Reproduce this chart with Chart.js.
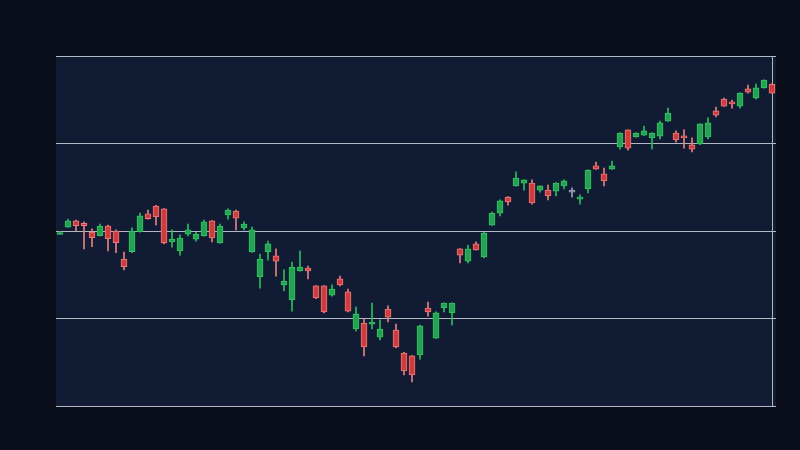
<!DOCTYPE html>
<html>
<head>
<meta charset="utf-8">
<style>
  html, body { margin: 0; padding: 0; background: #0a0e1a; }
  #wrap { width: 800px; height: 450px; }
</style>
<script src="https://cdn.jsdelivr.net/npm/chart.js@4.4.4/dist/chart.umd.min.js"></script>
</head>
<body>
<div id="wrap"><canvas id="chart" width="800" height="450"></canvas></div>
<script>
// OHLC per session, read off the reference candles (no axis labels shown,
// so the price scale is arbitrary: 100..200 across the plot height).
const opens = [
  149.0, 151.1, 152.9, 152.2, 149.7, 148.7, 151.4, 150.0, 142.0, 144.1,
  149.8, 154.9, 157.1, 156.3, 146.9, 144.3, 149.1, 147.7, 148.6, 152.9,
  146.6, 154.6, 155.7, 150.9, 144.0, 136.9, 144.0, 142.9, 134.6, 130.3,
  138.6, 139.4, 134.3, 134.3, 131.7, 136.3, 132.6, 122.0, 123.7, 123.4,
  119.7, 127.7, 121.7, 115.1, 114.3, 114.6, 128.0, 119.4, 128.0, 126.6,
  144.9, 141.4, 146.3, 142.6, 151.7, 155.1, 159.7, 162.9, 163.7, 163.7,
  161.7, 161.7, 161.4, 162.9, 161.1, 159.1, 162.0, 168.6, 166.3, 167.7,
  174.0, 178.9, 176.9, 177.4, 176.6, 177.1, 181.4, 178.0, 177.1, 174.6,
  174.9, 176.9, 184.3, 187.7, 186.9, 185.7, 190.6, 188.0, 190.9, 192.0
];
const highs = [
  149.9, 153.4, 153.1, 152.6, 150.6, 152.0, 151.7, 150.3, 144.0, 150.9,
  155.1, 156.0, 157.3, 156.4, 150.3, 148.9, 152.0, 149.7, 153.1, 153.0,
  152.0, 156.3, 156.0, 152.6, 151.1, 143.4, 147.1, 144.9, 138.9, 141.1,
  144.3, 140.0, 134.4, 134.4, 134.6, 137.1, 133.4, 128.3, 124.9, 129.4,
  124.6, 128.6, 123.4, 115.3, 114.4, 123.1, 129.7, 126.9, 129.5, 129.5,
  145.0, 146.0, 146.9, 149.7, 155.4, 158.9, 159.8, 166.9, 164.6, 164.6,
  162.9, 163.1, 163.8, 164.6, 162.3, 160.3, 167.5, 169.7, 168.0, 170.0,
  178.1, 178.9, 178.1, 180.0, 178.1, 181.4, 185.1, 178.6, 178.9, 176.6,
  180.6, 182.3, 185.4, 188.0, 187.4, 189.5, 191.7, 192.0, 193.2, 192.1
];
const lows = [
  149.0, 151.1, 150.0, 144.9, 145.5, 148.6, 144.3, 143.8, 138.9, 143.8,
  149.7, 153.4, 151.7, 146.3, 145.4, 143.1, 148.6, 147.1, 148.5, 146.9,
  146.5, 153.4, 150.3, 150.3, 143.9, 133.7, 141.7, 137.1, 132.9, 127.1,
  138.5, 136.3, 130.7, 126.6, 131.4, 134.3, 126.9, 121.4, 114.3, 122.0,
  118.9, 124.0, 116.6, 108.9, 106.9, 113.4, 125.7, 119.3, 126.9, 123.1,
  140.9, 140.9, 144.5, 142.3, 151.6, 154.3, 157.4, 162.8, 161.7, 157.7,
  161.1, 158.9, 160.0, 162.0, 159.7, 157.7, 160.9, 167.6, 162.9, 167.6,
  173.4, 173.1, 176.8, 177.3, 173.4, 176.3, 181.3, 175.4, 173.7, 172.6,
  174.7, 176.3, 182.6, 185.6, 185.1, 185.1, 189.4, 187.7, 190.8, 189.3
];
const closes = [
  149.4, 152.9, 151.5, 151.5, 148.1, 151.4, 147.8, 146.7, 139.8, 150.0,
  154.3, 153.5, 154.0, 146.6, 147.7, 148.0, 150.3, 149.1, 152.6, 148.0,
  151.4, 156.0, 153.7, 152.0, 150.3, 142.0, 146.3, 141.4, 135.7, 139.7,
  139.7, 138.6, 130.9, 126.9, 133.4, 134.6, 127.1, 126.3, 116.9, 124.0,
  122.0, 125.4, 116.9, 110.0, 108.9, 122.9, 126.9, 126.6, 129.4, 129.4,
  143.1, 144.9, 144.6, 149.4, 155.1, 158.6, 158.3, 165.1, 164.6, 158.0,
  162.9, 160.0, 163.7, 164.3, 161.1, 159.4, 167.4, 167.7, 164.3, 168.6,
  178.0, 173.7, 178.0, 178.6, 178.0, 180.9, 183.7, 176.0, 176.6, 173.4,
  180.6, 180.9, 183.1, 185.7, 186.3, 189.4, 189.7, 190.9, 193.1, 189.4
];
const labels = opens.map((_, i) => 'Day ' + (i + 1));

const PRICE_MIN = 100;
const PRICE_MAX = 200;
const PRICE_STEP = 25;

const PAGE_BG = '#0a0e1a';
const PLOT_BG = '#111b33';
const GRID_COLOR = '#b3b8c5';

const UP = { fill: '#22a34f', border: '#35c465', wick: '#2fbb5c' };
const DOWN = { fill: '#d03b3b', border: '#ee7b7b', wick: '#e58080' };
const FLAT = { fill: '#98a2b6', border: '#98a2b6', wick: '#98a2b6' };

function side(i) {
  if (closes[i] > opens[i]) return UP;
  if (closes[i] < opens[i]) return DOWN;
  return FLAT;
}

// fills the page and the plot rectangle before anything else is drawn
const plotBackground = {
  id: 'plotBackground',
  beforeDraw(chart) {
    const { ctx, chartArea } = chart;
    ctx.save();
    ctx.fillStyle = PAGE_BG;
    ctx.fillRect(0, 0, chart.width, chart.height);
    ctx.fillStyle = PLOT_BG;
    ctx.fillRect(chartArea.left, chartArea.top, chartArea.width, chartArea.height);
    ctx.restore();
  }
};

const bodies = opens.map((o, i) => [Math.min(o, closes[i]), Math.max(o, closes[i])]);
const wicks = lows.map((l, i) => [l, highs[i]]);

new Chart(document.getElementById('chart'), {
  type: 'bar',
  data: {
    labels,
    datasets: [
      {
        label: 'Body',
        data: bodies,
        backgroundColor: opens.map((_, i) => side(i).fill),
        borderColor: opens.map((_, i) => side(i).border),
        borderWidth: 1,
        borderSkipped: false,
        barThickness: 6,
        minBarLength: 2,
        grouped: false,
        order: 0
      },
      {
        label: 'Wick',
        data: wicks,
        backgroundColor: opens.map((_, i) => side(i).wick),
        borderWidth: 0,
        barThickness: 1,
        grouped: false,
        order: 1
      }
    ]
  },
  options: {
    responsive: false,
    animation: false,
    layout: { padding: { left: 56, right: 24, top: 56, bottom: 44 } },
    plugins: { legend: { display: false }, tooltip: { enabled: false } },
    scales: {
      x: {
        type: 'category',
        offset: true,
        ticks: { display: false },
        border: { display: false },
        grid: {
          offset: false,
          drawTicks: false,
          // only the latest session gets a marker line
          color: ctx => (ctx.index === labels.length - 1 ? GRID_COLOR : 'transparent')
        }
      },
      y: {
        min: PRICE_MIN,
        max: PRICE_MAX,
        ticks: { display: false, stepSize: PRICE_STEP },
        border: { display: false },
        grid: { drawTicks: false, color: GRID_COLOR }
      }
    }
  },
  plugins: [plotBackground]
});
</script>
</body>
</html>
